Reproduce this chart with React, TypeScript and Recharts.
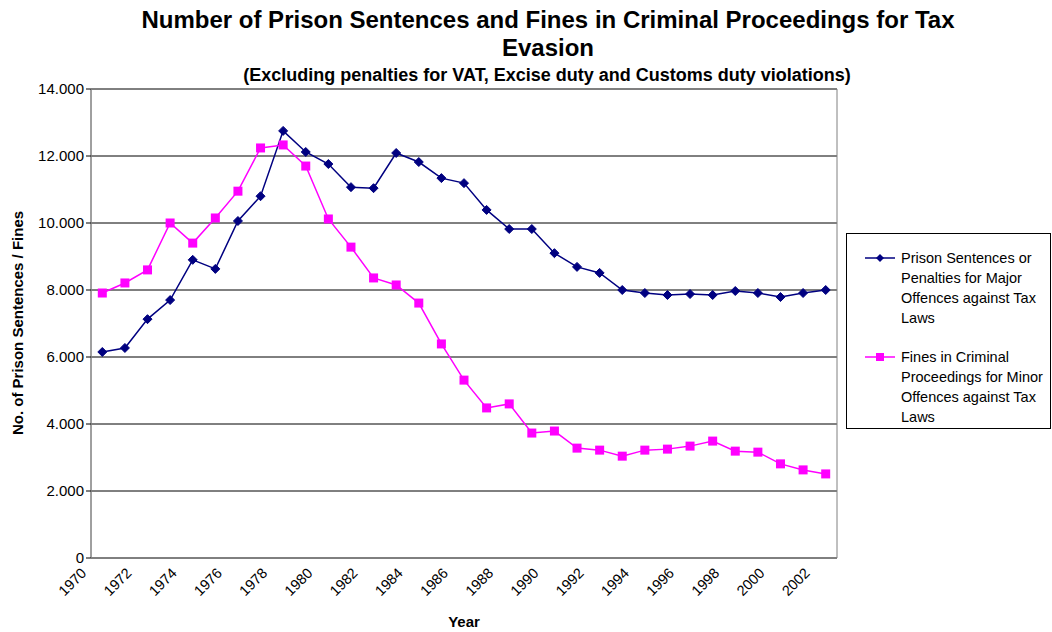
import React from 'react';
import { LineChart, Line, XAxis, YAxis, CartesianGrid, ReferenceArea } from 'recharts';

const years = ['1970','1971','1972','1973','1974','1975','1976','1977','1978','1979','1980','1981','1982','1983','1984','1985','1986','1987','1988','1989','1990','1991','1992','1993','1994','1995','1996','1997','1998','1999','2000','2001','2002'];
const prisonSentences = [6150,6270,7130,7700,8900,8630,10060,10800,12750,12120,11760,11070,11040,12090,11820,11340,11190,10390,9820,9820,9100,8690,8510,8000,7910,7850,7880,7850,7970,7910,7790,7910,8000];
const fines = [7910,8210,8600,10000,9400,10150,10950,12240,12330,11700,10120,9280,8360,8150,7610,6390,5310,4480,4600,3730,3790,3280,3220,3040,3220,3250,3340,3490,3190,3160,2810,2630,2510];
const yTicks = [0,2000,4000,6000,8000,10000,12000,14000];
const frameTicks = Array.from({ length: years.length + 1 }, (_, i) => i);

const seriesNames = [
  'Prison Sentences or Penalties for Major Offences against Tax Laws',
  'Fines in Criminal Proceedings for Minor Offences against Tax Laws',
];
const title1 = 'Number of Prison Sentences and Fines in Criminal Proceedings for Tax';
const title2 = 'Evasion';
const subtitle = '(Excluding penalties for VAT, Excise duty and Customs duty violations)';
const yLabel = 'No. of Prison Sentences / Fines';
const xLabel = 'Year';

const data = years.map((y, i) => ({ year: y, prison: prisonSentences[i], fines: fines[i] }));

const FONT = '"Liberation Sans", Arial, sans-serif';
const NAVY = '#000080';
const MAGENTA = '#FF00FF';

const fmt = (v: number) => (v === 0 ? '0' : v.toLocaleString('de-DE'));

const Diamond = (props: any) => {
  const { cx, cy } = props;
  if (cx == null || cy == null) return null;
  const r = 4.5;
  return <polygon points={`${cx},${cy - r} ${cx + r},${cy} ${cx},${cy + r} ${cx - r},${cy}`} fill={NAVY} stroke={NAVY} strokeWidth={1} />;
};
const Square = (props: any) => {
  const { cx, cy } = props;
  if (cx == null || cy == null) return null;
  const s = 9;
  return <rect x={cx - s / 2} y={cy - s / 2} width={s} height={s} fill={MAGENTA} />;
};

const YearTick = (props: any) => {
  const { x, y, payload } = props;
  const ax = x - 15;
  const ay = y + 8;
  return (
    <text x={ax} y={ay} textAnchor="end" fontFamily={FONT} fontSize={14.5} fill="#000" transform={`rotate(-45, ${ax}, ${ay})`}>
      {payload.value}
    </text>
  );
};

const LegendItem = ({ color, shape, text }: { color: string; shape: 'diamond' | 'square'; text: string }) => (
  <div style={{ display: 'flex', alignItems: 'flex-start' }}>
    <svg width={36} height={20} style={{ flex: 'none' }}>
      <line x1={0} y1={10} x2={30} y2={10} stroke={color} strokeWidth={1.5} />
      {shape === 'diamond' ? (
        <polygon points="15,6 19,10 15,14 11,10" fill={color} />
      ) : (
        <rect x={11} y={6} width={8} height={8} fill={color} />
      )}
    </svg>
    <div style={{ fontSize: 14.5, lineHeight: '20px', color: '#000' }}>{text}</div>
  </div>
);

export default function App() {
  return (
    <div style={{ position: 'absolute', left: 0, top: 0, width: 1052, height: 632, background: '#fff', fontFamily: FONT }}>
      <div style={{ position: 'absolute', left: 0, width: 1096, top: 6, textAlign: 'center', fontWeight: 'bold', fontSize: 24, lineHeight: '28px' }}>
        <div>{title1}</div>
        <div>{title2}</div>
      </div>
      <div style={{ position: 'absolute', left: 0, width: 1094, top: 65, textAlign: 'center', fontWeight: 'bold', fontSize: 18, lineHeight: '20px' }}>
        {subtitle}
      </div>
      <div style={{ position: 'absolute', left: 17, top: 323, width: 0, height: 0 }}>
        <div style={{ position: 'absolute', left: 0, top: 0, transform: 'translate(-50%, -50%) rotate(-90deg)', whiteSpace: 'nowrap', fontWeight: 'bold', fontSize: 15 }}>
          {yLabel}
        </div>
      </div>
      <div style={{ position: 'absolute', left: 464, top: 613, transform: 'translateX(-50%)', fontWeight: 'bold', fontSize: 15 }}>
        {xLabel}
      </div>
      <div style={{ position: 'absolute', left: 846, top: 233, width: 205, height: 196, border: '1px solid #000', boxSizing: 'border-box', padding: '14px 0 0 18px' }}>
        <LegendItem color={NAVY} shape="diamond" text={seriesNames[0]} />
        <div style={{ height: 19 }} />
        <LegendItem color={MAGENTA} shape="square" text={seriesNames[1]} />
      </div>
      <div style={{ position: 'absolute', left: 0, top: 0 }}>
        <LineChart width={1052} height={632} data={data} margin={{ top: 89, right: 215, bottom: 14, left: 31 }}>
          <CartesianGrid horizontal vertical={false} stroke="#000" strokeWidth={1} />
          <XAxis xAxisId="frame" type="number" domain={[0, years.length]} ticks={frameTicks} tick={false} tickLine={{ stroke: '#000' }} tickSize={5} axisLine={{ stroke: '#000' }} height={0} allowDataOverflow />
          <XAxis dataKey="year" scale="band" interval={1} axisLine={false} tickLine={false} tick={<YearTick />} height={60} />
          <YAxis domain={[0, 14000]} ticks={yTicks} tickFormatter={fmt} width={60} tickSize={5} tickLine={{ stroke: '#000' }} axisLine={{ stroke: '#808080' }} tick={{ fontFamily: FONT, fontSize: 15, fill: '#000' }} interval={0} />
          <ReferenceArea y1={0} y2={14000} fill="none" stroke="#808080" strokeWidth={1} ifOverflow="visible" />
          <Line dataKey="prison" name={seriesNames[0]} stroke={NAVY} strokeWidth={1.5} dot={<Diamond />} isAnimationActive={false} />
          <Line dataKey="fines" name={seriesNames[1]} stroke={MAGENTA} strokeWidth={1.5} dot={<Square />} isAnimationActive={false} />
        </LineChart>
      </div>
    </div>
  );
}
